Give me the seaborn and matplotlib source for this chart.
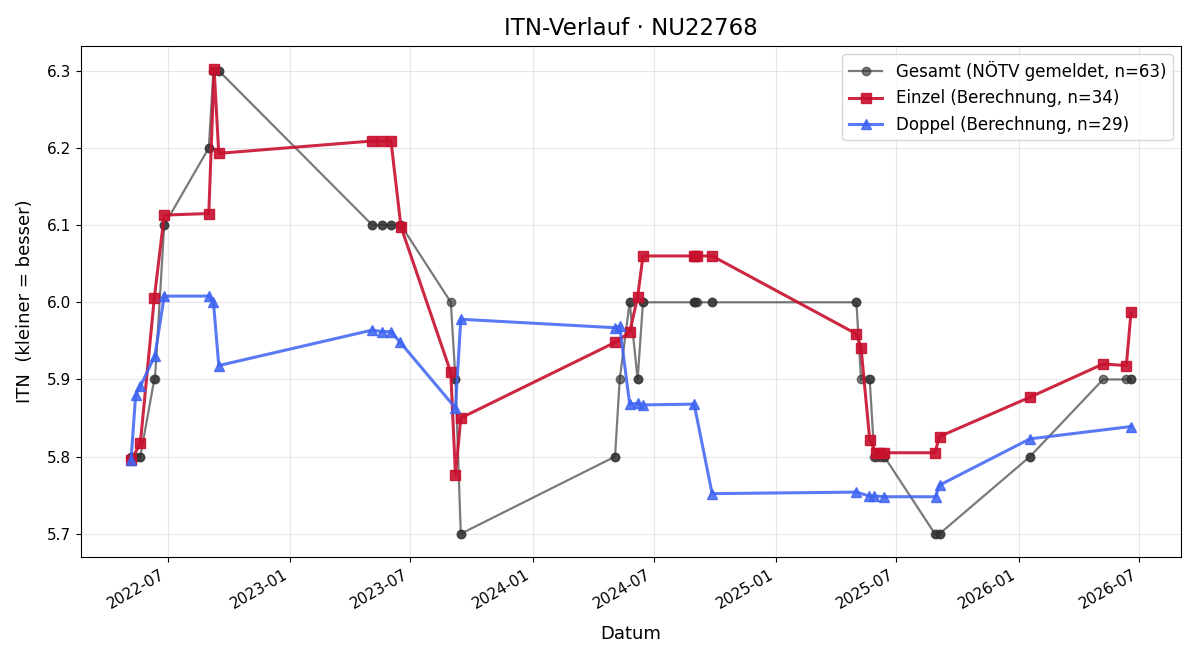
import pandas as pd
import numpy as np
import matplotlib
matplotlib.use("Agg")
import matplotlib.pyplot as plt
import matplotlib.dates as mdates
import seaborn as sns

# ---- data ----
gesamt_dates = [
    "2022-05-07", "2022-05-07", "2022-05-14", "2022-05-21", "2022-05-21",
    "2022-06-11", "2022-06-12", "2022-06-26", "2022-06-26", "2022-09-01",
    "2022-09-01", "2022-09-08", "2022-09-09", "2022-09-16", "2022-09-16",
    "2023-05-05", "2023-05-05", "2023-05-19", "2023-05-19", "2023-06-02",
    "2023-06-02", "2023-06-16", "2023-06-17", "2023-08-31", "2023-09-07",
    "2023-09-07", "2023-09-15", "2023-09-15", "2024-05-04", "2024-05-04",
    "2024-05-11", "2024-05-26", "2024-05-26", "2024-06-07", "2024-06-07",
    "2024-06-15", "2024-06-15", "2024-08-30", "2024-08-31", "2024-09-01",
    "2024-09-04", "2024-09-27", "2024-09-27", "2025-05-02", "2025-05-02",
    "2025-05-09", "2025-05-21", "2025-05-22", "2025-05-29", "2025-05-31",
    "2025-06-06", "2025-06-13", "2025-06-13", "2025-08-28", "2025-08-29",
    "2025-09-04", "2025-09-04", "2026-01-18", "2026-01-18", "2026-05-08",
    "2026-06-12", "2026-06-19", "2026-06-19",
]
gesamt_itn = [
    5.8, 5.8, 5.8, 5.8, 5.8,
    5.9, 5.9, 6.1, 6.1, 6.2,
    6.2, 6.3, 6.3, 6.3, 6.3,
    6.1, 6.1, 6.1, 6.1, 6.1,
    6.1, 6.1, 6.1, 6.0, 5.9,
    5.9, 5.7, 5.7, 5.8, 5.8,
    5.9, 6.0, 6.0, 5.9, 5.9,
    6.0, 6.0, 6.0, 6.0, 6.0,
    6.0, 6.0, 6.0, 6.0, 6.0,
    5.9, 5.9, 5.9, 5.8, 5.8,
    5.8, 5.8, 5.8, 5.7, 5.7,
    5.7, 5.7, 5.8, 5.8, 5.9,
    5.9, 5.9, 5.9,
]

einzel_dates = [
    "2022-05-07", "2022-05-21", "2022-06-11", "2022-06-26", "2022-09-01",
    "2022-09-09", "2022-09-16", "2023-05-05", "2023-05-19", "2023-06-02",
    "2023-06-17", "2023-08-31", "2023-09-07", "2023-09-15", "2024-05-04",
    "2024-05-26", "2024-06-07", "2024-06-15", "2024-08-30", "2024-09-01",
    "2024-09-04", "2024-09-27", "2025-05-02", "2025-05-09", "2025-05-22",
    "2025-05-31", "2025-06-06", "2025-06-13", "2025-08-28", "2025-09-04",
    "2026-01-18", "2026-05-08", "2026-06-12", "2026-06-19",
]
einzel_itn = [
    5.795, 5.817, 6.005, 6.113, 6.115,
    6.302, 6.193, 6.209, 6.209, 6.209,
    6.098, 5.909, 5.776, 5.850, 5.948,
    5.961, 6.007, 6.060, 6.060, 6.060,
    6.060, 6.060, 5.959, 5.941, 5.822,
    5.805, 5.805, 5.805, 5.805, 5.826,
    5.877, 5.920, 5.918, 5.987,
]

doppel_dates = [
    "2022-05-07", "2022-05-14", "2022-05-21", "2022-06-12", "2022-06-26",
    "2022-09-01", "2022-09-08", "2022-09-16", "2023-05-05", "2023-05-19",
    "2023-06-02", "2023-06-16", "2023-09-07", "2023-09-15", "2024-05-04",
    "2024-05-11", "2024-05-26", "2024-06-07", "2024-06-15", "2024-08-31",
    "2024-09-27", "2025-05-02", "2025-05-21", "2025-05-29", "2025-06-13",
    "2025-08-29", "2025-09-04", "2026-01-18", "2026-06-19",
]
doppel_itn = [
    5.795, 5.880, 5.891, 5.931, 6.008,
    6.008, 6.000, 5.918, 5.964, 5.962,
    5.962, 5.948, 5.863, 5.978, 5.967,
    5.969, 5.868, 5.869, 5.867, 5.868,
    5.752, 5.754, 5.749, 5.749, 5.748,
    5.748, 5.763, 5.823, 5.839,
]

labels = [
    "Gesamt (NÖTV gemeldet, n=63)",
    "Einzel (Berechnung, n=34)",
    "Doppel (Berechnung, n=29)",
]

# ---- plot ----
fig, ax = plt.subplots(figsize=(12, 6.6), dpi=100)

sns.lineplot(x=pd.to_datetime(gesamt_dates), y=gesamt_itn, ax=ax,
             estimator=None, sort=False, color="#333333", alpha=0.65,
             marker="o", markersize=6, linewidth=1.6,
             markeredgecolor="#333333", markeredgewidth=1.0,
             label=labels[0])
sns.lineplot(x=pd.to_datetime(einzel_dates), y=einzel_itn, ax=ax,
             estimator=None, sort=False, color="#C8102E", alpha=0.9,
             marker="s", markersize=7, linewidth=2.2,
             markeredgecolor="#C8102E", markeredgewidth=1.0,
             label=labels[1])
sns.lineplot(x=pd.to_datetime(doppel_dates), y=doppel_itn, ax=ax,
             estimator=None, sort=False, color="#3D63F2", alpha=0.85,
             marker="^", markersize=7, linewidth=2.2,
             markeredgecolor="#3D63F2", markeredgewidth=1.0,
             label=labels[2])

ax.set_title("ITN-Verlauf · NU22768", fontsize=16.5, pad=8)
ax.set_xlabel("Datum", fontsize=13, labelpad=10)
ax.set_ylabel("ITN  (kleiner = besser)", fontsize=13, labelpad=9)
ax.tick_params(labelsize=11)
ax.grid(True, alpha=0.3)
ax.xaxis.set_major_locator(mdates.MonthLocator(bymonth=[1, 7]))
ax.xaxis.set_major_formatter(mdates.DateFormatter("%Y-%m"))
ax.legend(loc="upper right", fontsize=12)
fig.autofmt_xdate()
fig.subplots_adjust(left=81 / 1200, right=1181 / 1200,
                    top=1 - 46 / 660, bottom=1 - 557 / 660)
fig.savefig("out.png", dpi=100)
